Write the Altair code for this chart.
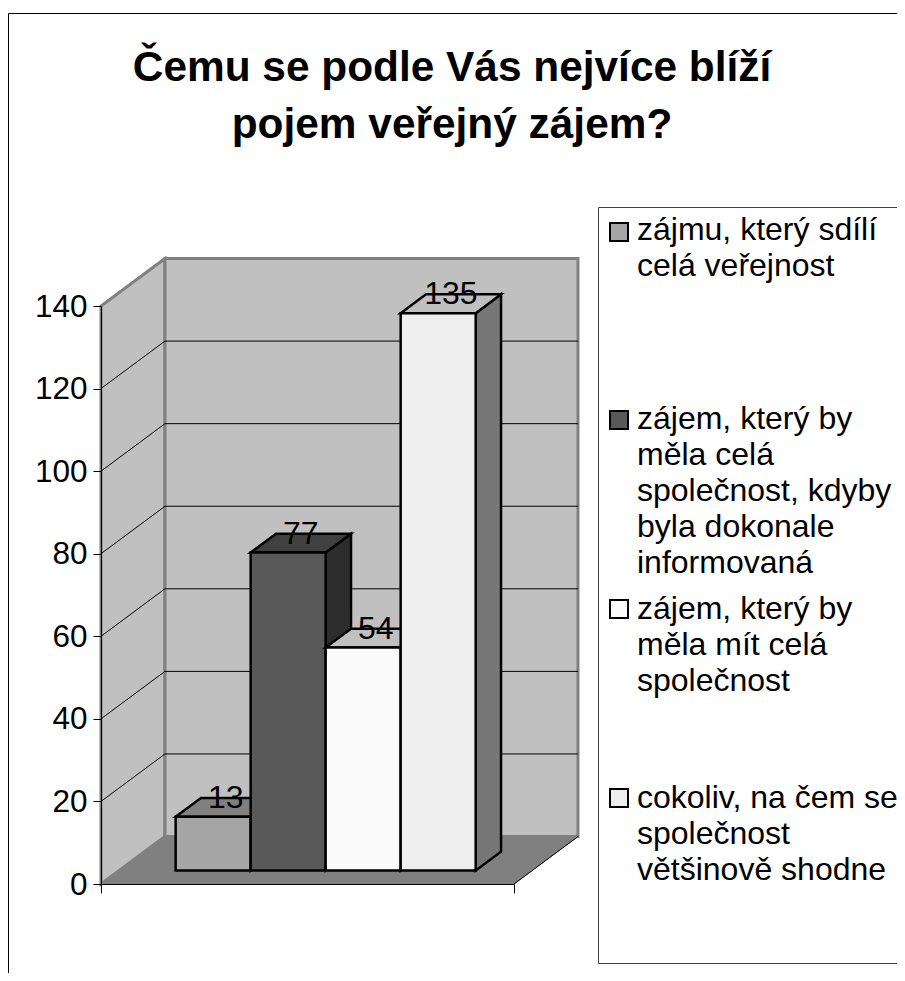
import altair as alt
import pandas as pd

FONT = "Liberation Sans"
title_lines = ["Čemu se podle Vás nejvíce blíží", "pojem veřejný zájem?"]
categories = [
    ["zájmu, který sdílí", "celá veřejnost"],
    ["zájem, který by", "měla celá", "společnost, kdyby", "byla dokonale", "informovaná"],
    ["zájem, který by", "měla mít celá", "společnost"],
    ["cokoliv, na čem se", "společnost", "většinově shodne"],
]
values = [13, 77, 54, 135]
front_colors = ["#A6A6A6", "#595959", "#FAFAFA", "#EEEEEE"]
top_colors = ["#808080", "#404040", "#C0C0C0", "#C0C0C0"]
side_colors = ["#707070", "#2D2D2D", "#7D7D7D", "#777777"]
y_ticks = [0, 20, 40, 60, 80, 100, 120, 140]
grid_values = [20, 40, 60, 80, 100, 120]

# chart geometry, in data units: a bar is one x unit wide
X_MIN, X_MAX = -0.753, 4.753
DX, DY = 0.853, 11.5          # x and y shift of the full chart depth
NEAR, FAR = 0.284, 0.68       # bar front and back, as a share of the depth

x_scale = alt.Scale(domain=[X_MIN, X_MAX], nice=False, zero=False)
y_scale = alt.Scale(domain=[0, 140], nice=False, zero=False)
x_axis = alt.Axis(values=[X_MIN, X_MAX], labels=False, tickSize=9, tickColor="#000000",
                  domainColor="#000000", grid=False, zindex=2, title=None)
y_axis = alt.Axis(values=y_ticks, labelFont=FONT, labelFontSize=31.5, labelColor="#000000", labelPadding=6,
                  labelOffset=1, tickSize=8, tickColor="#000000", domainColor="#000000", grid=False,
                  zindex=2, title=None)
X = lambda f: alt.X(f, type="quantitative", scale=x_scale, axis=x_axis)
Y = lambda f: alt.Y(f, type="quantitative", scale=y_scale, axis=y_axis, stack=None)


def vface(x0, x1, y0a, y0b, y1a, y1b, fill, stroke, sw):
    """Parallelogram with vertical edges."""
    df = pd.DataFrame({"x": [x0, x1], "y": [y0a, y0b], "y2": [y1a, y1b]})
    return alt.Chart(df).mark_area(fill=fill, stroke=stroke, strokeWidth=sw, opacity=1).encode(
        x=X("x"), y=Y("y"), y2=alt.Y2("y2"))


def hface(y0, y1, x0a, x0b, x1a, x1b, fill, stroke, sw):
    """Parallelogram with horizontal edges."""
    df = pd.DataFrame({"y": [y0, y1], "x": [x0a, x0b], "x2": [x1a, x1b]})
    return alt.Chart(df).mark_area(orient="horizontal", fill=fill, stroke=stroke, strokeWidth=sw, opacity=1).encode(
        y=Y("y"), x=X("x"), x2=alt.X2("x2"))


layers = []
one = pd.DataFrame({"x": [0], "y": [0]})

WALL, EDGE, FLOOR = "#C0C0C0", "#808080", "#808080"
layers.append(vface(X_MIN, X_MIN + DX, 0, DY, 140, 140 + DY, WALL, EDGE, 3))
back = pd.DataFrame({"x": [X_MIN + DX], "x2": [X_MAX + DX], "y": [DY], "y2": [140 + DY]})
layers.append(alt.Chart(back).mark_rect(fill=WALL, stroke=EDGE, strokeWidth=3).encode(
    x=X("x"), x2=alt.X2("x2"), y=Y("y"), y2=alt.Y2("y2")))
layers.append(hface(0, DY, X_MIN, X_MIN + DX, X_MAX, X_MAX + DX, FLOOR, FLOOR, 1))

# gridlines along the side wall and the back wall
rows = []
for g in grid_values:
    rows += [
        {"g": g, "i": 0, "x": X_MIN, "y": g},
        {"g": g, "i": 1, "x": X_MIN + DX, "y": g + DY},
        {"g": g, "i": 2, "x": X_MAX + DX, "y": g + DY},
    ]
rows += [{"g": 0, "i": 0, "x": X_MAX, "y": 0}, {"g": 0, "i": 1, "x": X_MAX + DX, "y": DY}]
layers.append(alt.Chart(pd.DataFrame(rows)).mark_line(color="#000000", strokeWidth=1).encode(
    x=X("x"), y=Y("y"), detail="g:N", order="i:Q"))

# bars
BAR_SW = 2.5
base_n, base_f = DY * NEAR, DY * FAR
for i, v in enumerate(values):
    xl, xr = i + DX * NEAR, i + 1 + DX * NEAR
    sh = DX * (FAR - NEAR)
    layers.append(vface(xr, xr + sh, base_n, base_f, v + base_n, v + base_f, side_colors[i], "#000000", BAR_SW))
    layers.append(hface(v + base_n, v + base_f, xl, xl + sh, xr, xr + sh, top_colors[i], "#000000", BAR_SW))
    front = pd.DataFrame({"x": [xl], "x2": [xr], "y": [base_n], "y2": [v + base_n]})
    layers.append(alt.Chart(front).mark_rect(fill=front_colors[i], stroke="#000000", strokeWidth=BAR_SW).encode(
        x=X("x"), x2=alt.X2("x2"), y=Y("y"), y2=alt.Y2("y2")))

# value labels
lab = pd.DataFrame({
    "x": [i + 0.5 + DX * (NEAR + FAR) / 2 for i in range(4)],
    "y": [v + base_f for v in values],
    "t": [str(v) for v in values],
})
layers.append(alt.Chart(lab).mark_text(font=FONT, fontSize=32, color="#000000", baseline="middle").encode(
    x=X("x"), y=Y("y"), text="t:N"))

# frames and legend (placed in pixels relative to the plot area, whose origin is page 101,306)
OX, OY = 101, 306
R = 897 - OX
B = 973 - OY


def hline(a, b, yy, color="#000000", sw=1):
    return alt.Chart(one).mark_rule(color=color, strokeWidth=sw).encode(
        x=alt.value(a), x2=alt.value(b), y=alt.value(yy))


def vline(xx, a, b, color="#000000", sw=1):
    return alt.Chart(one).mark_rule(color=color, strokeWidth=sw).encode(
        y=alt.value(a), y2=alt.value(b), x=alt.value(xx))


layers.append(hline(8.5 - OX, R, 13.5 - OY))
layers.append(vline(8.5 - OX, 13.5 - OY, B))
layers.append(hline(598.5 - OX, R, 207.5 - OY, "#404040"))
layers.append(hline(598.5 - OX, R, 963.5 - OY, "#404040"))
layers.append(vline(598.5 - OX, 207.5 - OY, 963.5 - OY, "#404040"))

symbol_y = [232, 420, 609, 798]
baseline_y = [240, 429, 619, 808]
for i, lines in enumerate(categories):
    layers.append(alt.Chart(one).mark_point(
        shape="square", size=324, filled=True, fill=front_colors[i], stroke="#000000", strokeWidth=2, opacity=1
    ).encode(x=alt.value(619 - OX), y=alt.value(symbol_y[i] - OY)))
    layers.append(alt.Chart(one).mark_text(
        text=lines, font=FONT, fontSize=32, lineHeight=36, align="left", baseline="alphabetic", color="#000000"
    ).encode(x=alt.value(637 - OX), y=alt.value(baseline_y[i] - OY)))

chart = alt.layer(*layers).properties(
    width=413,
    height=578,
    padding={"left": OX - 8, "top": OY - 8, "right": 897 - OX - 413, "bottom": 973 - OY - 578},
    autosize=alt.AutoSizeParams(type="none"),
    background="#FFFFFF",
    title=alt.TitleParams(
        text=title_lines, font=FONT, fontSize=42.4, fontWeight="bold", color="#000000",
        anchor="middle", frame="group", dx=144.5, offset=-134, lineHeight=57,
    ),
).configure_view(stroke=None)

chart.save("out.html", embed_options={"renderer": "svg", "actions": False})
